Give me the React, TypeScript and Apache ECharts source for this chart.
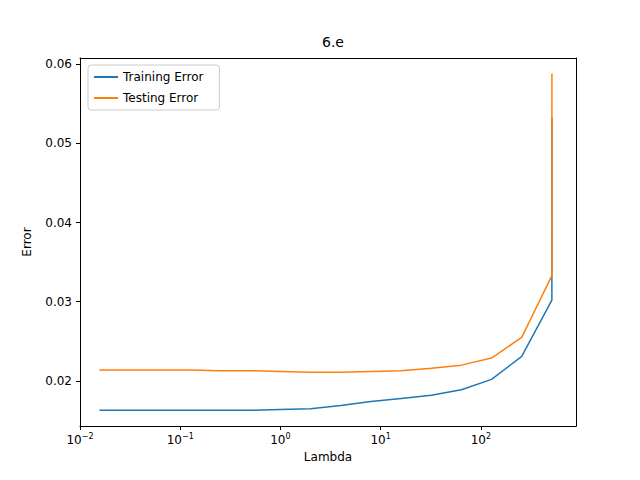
import { useEffect, useRef } from "react";
import * as echarts from "echarts";

const lambdas = [
  0.015625, 0.03125, 0.0625, 0.125, 0.25, 0.5, 1, 2, 4, 8, 16, 32, 64, 128, 256, 512, 512.5,
];
const trainingError = [
  0.0163, 0.0163, 0.0163, 0.0163, 0.0163, 0.0163, 0.0164, 0.0165, 0.0169, 0.0174, 0.0178,
  0.0182, 0.0189, 0.0202, 0.0231, 0.0302, 0.0532,
];
const testingError = [
  0.0214, 0.0214, 0.0214, 0.0214, 0.0213, 0.0213, 0.0212, 0.0211, 0.0211, 0.0212, 0.0213,
  0.0216, 0.022, 0.0229, 0.0255, 0.0333, 0.0588,
];
const xTicks = [-2, -1, 0, 1, 2];
const yTicks = [0.02, 0.03, 0.04, 0.05, 0.06];

export default function App() {
  const ref = useRef<HTMLDivElement>(null);
  useEffect(() => {
    if (!ref.current) return;
    const chart = echarts.init(ref.current, null, { renderer: "svg" });
    const font = "DejaVu Sans";
    const axisCommon = {
      axisLine: { show: true, onZero: false, lineStyle: { color: "#000", width: 1 } },
      axisTick: { show: true, length: 4, inside: false, lineStyle: { color: "#000" } },
      splitLine: { show: false },
      nameTextStyle: { color: "#000", fontSize: 12, fontFamily: font },
    };
    const spine = {
      type: "value",
      axisLine: { show: true, onZero: false, lineStyle: { color: "#000", width: 1 } },
      axisTick: { show: false },
      axisLabel: { show: false },
      splitLine: { show: false },
    };
    chart.setOption({
      animation: false,
      backgroundColor: "#fff",
      textStyle: { fontFamily: font },
      title: {
        text: "6.e",
        left: 328,
        top: 30,
        textAlign: "center",
        textStyle: { fontSize: 14, fontWeight: "normal", color: "#000", fontFamily: font },
      },
      legend: {
        left: 88,
        top: 65,
        orient: "vertical",
        itemWidth: 24,
        itemHeight: 2,
        itemGap: 9,
        icon: "rect",
        padding: [6, 16, 6, 6],
        borderColor: "#ccc",
        borderWidth: 1,
        borderRadius: 3,
        backgroundColor: "rgba(255,255,255,0.8)",
        textStyle: { fontSize: 12, color: "#000", fontFamily: font, width: 100 },
        data: ["Training Error", "Testing Error"],
      },
      grid: { left: 80, right: 64, top: 58, bottom: 54 },
      xAxis: [
        {
          type: "value",
          min: -2,
          max: 2.95,
          name: "Lambda",
          nameLocation: "middle",
          nameGap: 24,
          ...axisCommon,
          axisTick: { ...axisCommon.axisTick, customValues: xTicks },
          axisLabel: {
            customValues: xTicks,
            color: "#000",
            fontSize: 12,
            fontFamily: font,
            margin: 6,
            formatter: (v: number) => "10{s|" + (v < 0 ? "−" + -v : v) + "}",
            rich: { s: { fontSize: 8, verticalAlign: "top", padding: [0, 0, 8, 0] } },
          },
        },
        { ...spine, position: "top", min: 0, max: 1 },
      ],
      yAxis: [
        {
          type: "value",
          min: 0.01432,
          max: 0.06076,
          name: "Error",
          nameLocation: "middle",
          nameGap: 47,
          ...axisCommon,
          axisTick: { ...axisCommon.axisTick, customValues: yTicks },
          axisLabel: {
            customValues: yTicks,
            color: "#000",
            fontSize: 12,
            fontFamily: font,
            formatter: (v: number) => v.toFixed(2),
          },
        },
        { ...spine, position: "right", min: 0, max: 1 },
      ],
      series: [
        {
          name: "Training Error",
          type: "line",
          symbol: "none",
          color: "#1f77b4",
          lineStyle: { width: 1.5 },
          data: lambdas.map((l, i) => [Math.log10(l), trainingError[i]]),
        },
        {
          name: "Testing Error",
          type: "line",
          symbol: "none",
          color: "#ff7f0e",
          lineStyle: { width: 1.5 },
          data: lambdas.map((l, i) => [Math.log10(l), testingError[i]]),
        },
      ],
    });
    return () => chart.dispose();
  }, []);
  return <div ref={ref} style={{ width: 640, height: 480, margin: -8 }} />;
}
